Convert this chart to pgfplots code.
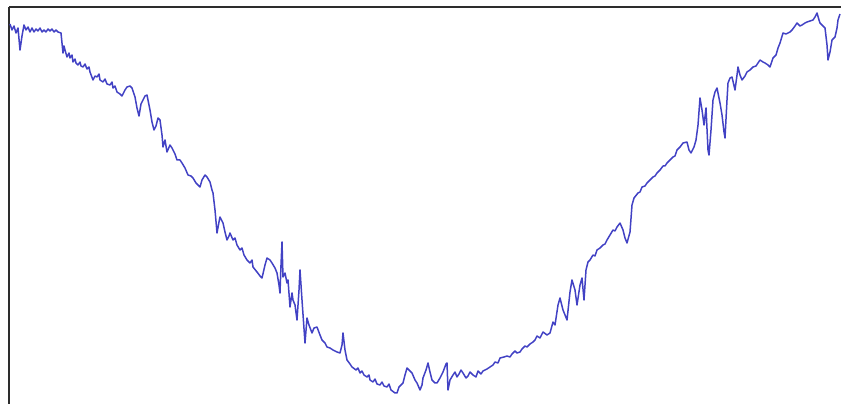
\documentclass[border=0pt]{standalone}
\usepackage{pgfplots}
\pgfplotsset{compat=1.18}
\definecolor{lineblue}{RGB}{66,66,196}
\definecolor{frame}{RGB}{45,45,45}
\begin{document}
\begin{tikzpicture}
\begin{axis}[
  scale only axis,
  width=832bp, height=397bp,
  xmin=9, xmax=841, ymin=-404, ymax=-7,
  axis x line*=top, axis y line*=left,
  axis line style={frame, line width=2bp},
  xtick=\empty, ytick=\empty,
  clip=false,
]
\coordinate (sw) at (rel axis cs:0,0);
\coordinate (ne) at (rel axis cs:1,1);
\addplot[lineblue, line width=1.5bp, line join=round] coordinates {
(10,-24) (12,-30) (14,-26) (16,-33) (18,-28) (20,-50) (22,-36) (24,-25) (26,-30) (28,-27) (30,-32) (32,-28) (34,-32) (36,-29) (38,-31) (40,-28) (42,-32) (44,-30) (46,-32) (48,-29) (50,-31) (52,-29) (54,-32) (56,-30) (58,-32) (61,-33) (63,-53) (64,-46) (65,-50) (67,-57) (69,-53) (70,-58) (72,-55) (73,-62) (75,-59) (76,-63) (78,-65) (80,-62) (81,-66) (83,-67) (85,-64) (87,-69) (89,-67) (90,-72) (93,-80) (95,-76) (97,-77) (99,-74) (100,-80) (103,-82) (105,-79) (107,-84) (110,-85) (112,-82) (113,-88) (115,-86) (117,-92) (120,-94) (122,-96) (125,-90) (127,-87) (130,-86) (132,-88) (135,-97) (137,-108) (139,-116) (141,-104) (143,-100) (145,-96) (147,-95) (150,-110) (152,-122) (154,-130) (156,-126) (158,-118) (160,-120) (162,-135) (163,-147) (165,-140) (167,-152) (170,-145) (172,-148) (175,-154) (177,-160) (180,-160) (182,-163) (185,-168) (188,-175) (191,-176) (193,-178) (196,-183) (200,-187) (202,-180) (205,-175) (207,-177) (210,-182) (212,-190) (213,-193) (215,-210) (217,-233) (219,-222) (220,-217) (223,-223) (225,-232) (227,-240) (229,-236) (230,-233) (233,-240) (235,-238) (237,-245) (240,-250) (242,-248) (244,-255) (247,-260) (250,-263) (252,-260) (253,-267) (257,-272) (260,-276) (262,-278) (265,-265) (267,-258) (270,-260) (272,-263) (275,-268) (277,-273) (279,-285) (280,-293) (281,-265) (282,-242) (283,-277) (285,-273) (287,-283) (288,-280) (290,-307) (292,-293) (293,-300) (295,-305) (297,-320) (299,-290) (300,-270) (302,-300) (305,-343) (307,-318) (309,-325) (312,-333) (314,-328) (317,-327) (320,-335) (322,-340) (325,-343) (327,-347) (330,-348) (333,-350) (337,-352) (340,-353) (342,-345) (343,-333) (345,-350) (347,-360) (350,-364) (352,-367) (356,-370) (358,-368) (360,-373) (362,-371) (364,-375) (367,-377) (369,-375) (370,-380) (373,-382) (375,-379) (377,-384) (380,-385) (382,-382) (384,-386) (387,-387) (389,-384) (391,-390) (395,-393) (397,-393) (399,-387) (403,-383) (405,-375) (407,-368) (410,-371) (412,-373) (415,-380) (417,-383) (420,-390) (422,-385) (423,-378) (426,-370) (428,-363) (430,-372) (432,-380) (435,-383) (437,-383) (440,-378) (443,-372) (446,-364) (447,-363) (448,-390) (450,-380) (453,-375) (455,-372) (457,-377) (459,-374) (461,-370) (463,-373) (466,-378) (468,-376) (470,-372) (473,-375) (476,-377) (478,-371) (481,-374) (483,-371) (487,-369) (490,-367) (493,-365) (495,-362) (498,-363) (500,-358) (504,-357) (507,-356) (510,-357) (512,-354) (515,-351) (517,-353) (520,-352) (522,-349) (525,-346) (527,-347) (530,-344) (533,-342) (535,-340) (537,-336) (540,-338) (543,-332) (547,-335) (550,-333) (553,-322) (555,-325) (558,-305) (560,-298) (563,-310) (567,-320) (570,-292) (572,-280) (575,-290) (577,-305) (580,-285) (582,-278) (584,-300) (586,-270) (588,-262) (590,-260) (593,-255) (595,-256) (597,-250) (600,-248) (603,-245) (605,-244) (607,-240) (610,-235) (613,-230) (615,-231) (617,-227) (620,-223) (623,-230) (625,-238) (627,-243) (630,-232) (632,-205) (634,-198) (638,-193) (640,-192) (642,-187) (645,-186) (647,-183) (650,-180) (653,-177) (655,-176) (657,-173) (660,-170) (663,-166) (665,-166) (667,-163) (670,-160) (673,-157) (675,-156) (677,-150) (680,-147) (683,-143) (687,-142) (689,-150) (691,-153) (694,-147) (696,-140) (698,-125) (700,-98) (702,-110) (704,-125) (706,-108) (708,-150) (709,-155) (711,-130) (713,-100) (715,-92) (717,-88) (720,-103) (722,-115) (724,-132) (725,-138) (727,-100) (728,-83) (730,-78) (732,-77) (735,-90) (737,-75) (738,-67) (740,-75) (742,-80) (745,-76) (747,-72) (750,-70) (753,-67) (756,-66) (758,-63) (760,-60) (763,-62) (765,-63) (768,-65) (770,-67) (773,-58) (776,-55) (778,-48) (780,-43) (783,-33) (786,-34) (788,-33) (790,-32) (792,-30) (795,-26) (797,-23) (800,-26) (802,-25) (805,-23) (807,-22) (810,-21) (813,-20) (815,-17) (817,-13) (819,-20) (820,-23) (823,-26) (825,-28) (827,-45) (828,-60) (830,-52) (832,-40) (834,-38) (835,-37) (837,-28) (838,-20) (840,-14)
};
\end{axis}
\pgfresetboundingbox
\path ([xshift=-9bp]sw) rectangle ([yshift=7bp]ne);
\end{tikzpicture}
\end{document}
